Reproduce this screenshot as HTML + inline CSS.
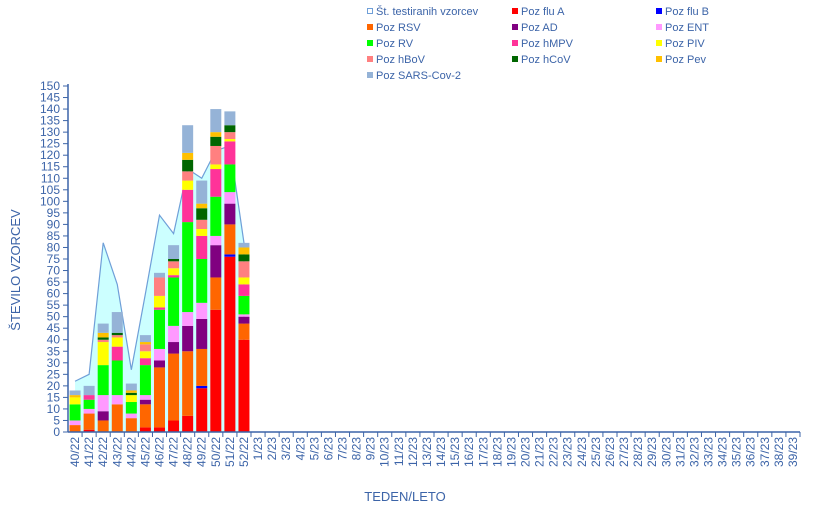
<!DOCTYPE html>
<html><head><meta charset="utf-8">
<style>
body{margin:0;background:#fff;}
svg{display:block;font-family:"Liberation Sans",sans-serif;}
</style></head>
<body>
<svg id="chart" width="828" height="528"></svg>
<script>
const categories = ["40/22","41/22","42/22","43/22","44/22","45/22","46/22","47/22","48/22","49/22","50/22","51/22","52/22"];
for (let w = 1; w <= 39; w++) categories.push(w + "/23");
const totalTested = [22,25,82,64,27,60,94,86,114,110,122,124,82];
const fluA   = [0,1,0,0,0,2,2,5,7,19,53,76,40];
const fluB   = [0,0,0,0,0,0,0,0,0,1,0,1,0];
const rsv    = [3,7,5,12,6,10,26,29,28,16,14,13,7];
const ad     = [0,0,4,0,0,2,3,5,11,13,14,9,3];
const ent    = [2,2,7,4,2,2,5,7,6,7,4,5,1];
const rv     = [7,4,13,15,5,13,17,21,39,19,17,12,8];
const hmpv   = [0,2,0,6,0,3,1,1,14,10,12,10,5];
const piv    = [3,0,10,4,3,3,5,3,4,3,2,1,3];
const hbov   = [0,0,1,1,0,3,8,3,4,4,8,3,7];
const hcov   = [0,0,1,1,1,0,0,1,5,5,4,3,3];
const pev    = [1,0,2,0,1,1,0,0,3,2,2,0,3];
const sars   = [2,4,4,9,3,3,2,6,12,10,10,6,2];
const yTicks = [0,5,10,15,20,25,30,35,40,45,50,55,60,65,70,75,80,85,90,95,100,105,110,115,120,125,130,135,140,145,150];

const series = [
 {name:"Poz flu A",data:fluA,color:"#ff0000",key:"flu-a"},
 {name:"Poz flu B",data:fluB,color:"#0000ff",key:"flu-b"},
 {name:"Poz RSV",data:rsv,color:"#ff6600",key:"rsv"},
 {name:"Poz AD",data:ad,color:"#800080",key:"ad"},
 {name:"Poz ENT",data:ent,color:"#ff99ff",key:"ent"},
 {name:"Poz RV",data:rv,color:"#00ff00",key:"rv"},
 {name:"Poz hMPV",data:hmpv,color:"#ff3399",key:"hmpv"},
 {name:"Poz PIV",data:piv,color:"#ffff00",key:"piv"},
 {name:"Poz hBoV",data:hbov,color:"#ff8080",key:"hbov"},
 {name:"Poz hCoV",data:hcov,color:"#006600",key:"hcov"},
 {name:"Poz Pev",data:pev,color:"#ffc000",key:"pev"},
 {name:"Poz SARS-Cov-2",data:sars,color:"#95b3d7",key:"sars-cov-2"}
];

const NS="http://www.w3.org/2000/svg";
const svg=document.getElementById("chart");
const X0=68, X1=800, Y0=432, Y150=86;
const step=(X1-X0)/categories.length;
function xC(i){return X0+step*(i+0.5);}
function yV(v){return Y0-(v/150)*(Y0-Y150);}
function mk(tag,attrs,parent){const e=document.createElementNS(NS,tag);for(const k in attrs)e.setAttribute(k,attrs[k]);(parent||svg).appendChild(e);return e;}

// area for tested
let d="M"+xC(0)+","+Y0;
totalTested.forEach((v,i)=>{d+=" L"+xC(i)+","+yV(v);});
d+=" L"+xC(totalTested.length-1)+","+Y0+" Z";
const area=mk("path",{d:d,fill:"#ccffff",stroke:"none"});


let dl="";
totalTested.forEach((v,i)=>{dl+=(i?" L":"M")+xC(i)+","+yV(v);});
dl+=" L"+xC(totalTested.length-1)+","+Y0;
const line=mk("path",{d:dl,fill:"none",stroke:"#6f9fd8","stroke-width":1.2});



// bars
const bw=11;
for(let i=0;i<13;i++){
  let acc=0;
  series.forEach(s=>{
    const v=s.data[i]; if(!v) return;
    const r=mk("rect",{x:xC(i)-bw/2,y:yV(acc+v),width:bw,height:yV(acc)-yV(acc+v),fill:s.color});
    
    
    acc+=v;
  });
}

// axes
const ax="#3c64a8";
const yAxis=mk("line",{x1:X0,y1:Y150-2,x2:X0,y2:Y0,stroke:ax,"stroke-width":1.5});


const xAxis=mk("line",{x1:X0,y1:Y0,x2:X1,y2:Y0,stroke:ax,"stroke-width":1.5});


yTicks.forEach(t=>{
  const y=yV(t);
  mk("line",{x1:X0-5,y1:y,x2:X0,y2:y,stroke:ax,"stroke-width":1});
  const tx=mk("text",{x:X0-8,y:y+4,"text-anchor":"end","font-size":12,fill:"#3c64a8"});
  tx.textContent=t;
  
  
});
categories.forEach((c,i)=>{
  const x=X0+step*(i+1);
  mk("line",{x1:x,y1:Y0,x2:x,y2:Y0+5,stroke:ax,"stroke-width":1});
  const tx=mk("text",{x:0,y:0,"text-anchor":"end","font-size":12,fill:"#3c64a8",transform:"translate("+(xC(i)+4)+","+(Y0+5)+") rotate(-90)"});
  tx.textContent=c;
  
  
});
const yt=mk("text",{x:0,y:0,"text-anchor":"middle","font-size":13,fill:"#3c64a8",transform:"translate(20,270) rotate(-90)"});
yt.textContent="ŠTEVILO VZORCEV";


const xt=mk("text",{x:405,y:501,"text-anchor":"middle","font-size":13,fill:"#3c64a8"});
xt.textContent="TEDEN/LETO";



// legend
const legendItems=[{name:"Št. testiranih vzorcev",color:null,key:"tested"}].concat(series);
const cols=[367,512,656];
legendItems.forEach((it,k)=>{
  const cx=cols[k%3], cy=11+Math.floor(k/3)*16;
  const g=mk("g",{});
  
  
  if(it.color) mk("rect",{x:cx,y:cy-3,width:6,height:6,fill:it.color},g);
  else mk("rect",{x:cx+0.5,y:cy-2.5,width:5,height:5,fill:"#fff",stroke:"#6f9fd8"},g);
  const t=mk("text",{x:cx+9,y:cy+4,"font-size":11,fill:"#3c64a8"},g);
  t.textContent=it.name;
});
</script>
</body></html>
